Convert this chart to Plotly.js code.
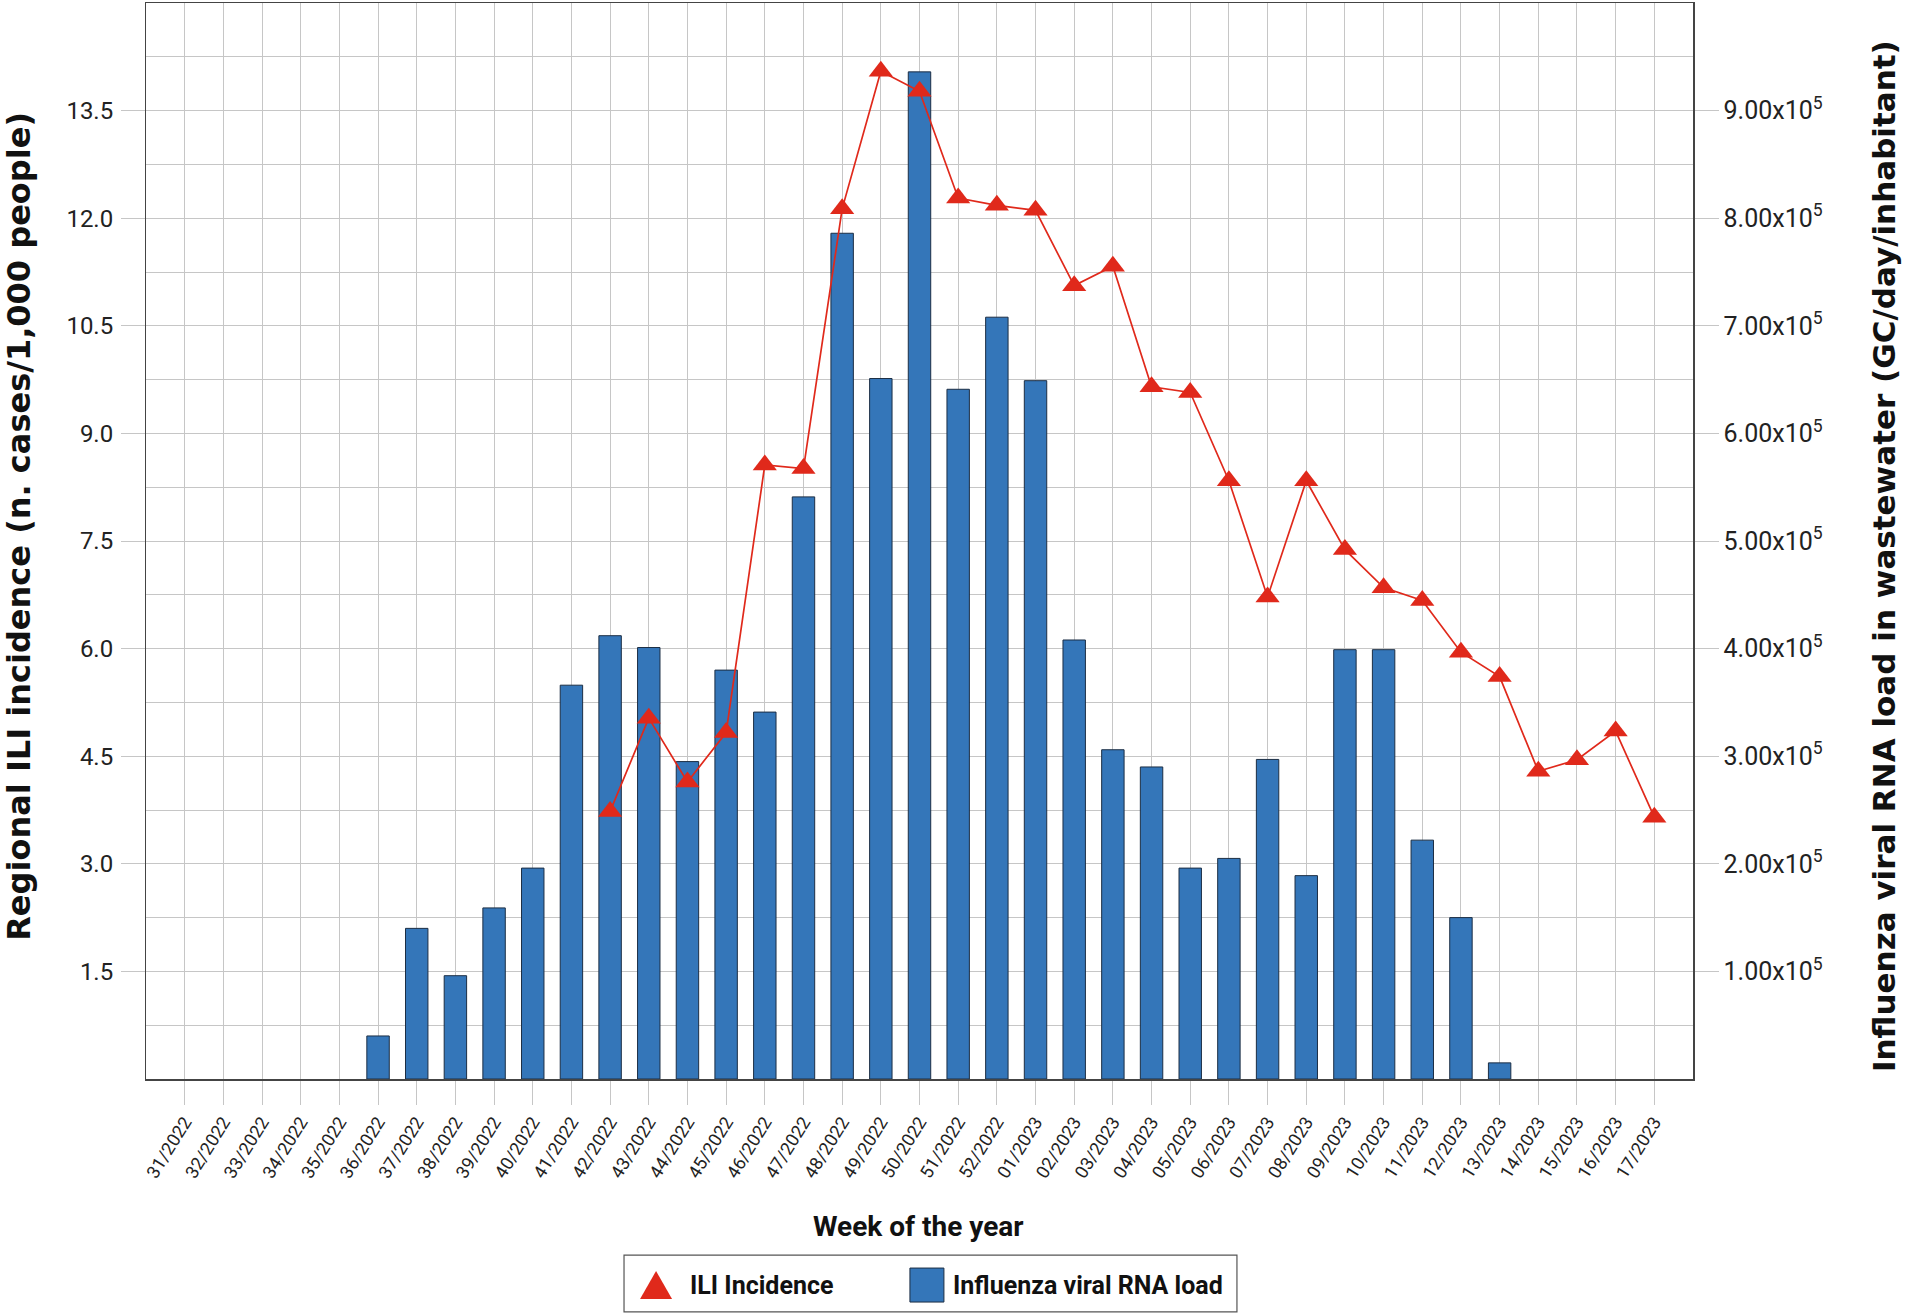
<!DOCTYPE html>
<html>
<head>
<meta charset="utf-8">
<script src="https://cdn.plot.ly/plotly-3.0.1.min.js"></script>
<style>
  html, body { margin: 0; padding: 0; background: #fff; }
  #chart { width: 1907px; height: 1316px; }
</style>
</head>
<body>
<div id="chart"></div>
<script>
// week labels (x categories)
var weeks = ["31/2022", "32/2022", "33/2022", "34/2022", "35/2022", "36/2022", "37/2022", "38/2022",
	"39/2022", "40/2022", "41/2022", "42/2022", "43/2022", "44/2022", "45/2022", "46/2022", "47/2022",
	"48/2022", "49/2022", "50/2022", "51/2022", "52/2022", "01/2023", "02/2023", "03/2023", "04/2023",
	"05/2023", "06/2023", "07/2023", "08/2023", "09/2023", "10/2023", "11/2023", "12/2023", "13/2023",
	"14/2023", "15/2023", "16/2023", "17/2023"];

// ILI incidence, cases per 1,000 people (left axis)
var iliIncidence = [null, null, null, null, null, null, null, null, null, null, null,
	3.73, 5.03, 4.14, 4.83, 8.56, 8.51, 12.13, 14.05, 13.77, 12.28, 12.18, 12.11, 11.06,
	11.33, 9.65, 9.57, 8.34, 6.72, 8.34, 7.38, 6.85, 6.67, 5.95, 5.61, 4.29, 4.45, 4.85, 3.65];

// influenza viral RNA load, GC/day/inhabitant (right axis)
var rnaLoad = [null, null, null, null, null, 40000, 140000, 96000, 159000, 196000, 366000,
	412000, 401000, 295000, 380000, 341000, 541000, 786000, 651000, 936000, 641000, 708000,
	649000, 408000, 306000, 290000, 196000, 205000, 297000, 189000, 399000, 399000, 222000,
	150000, 15000, null, null, null, null];

var iliTicks = [1.5, 3.0, 4.5, 6.0, 7.5, 9.0, 10.5, 12.0, 13.5];
var iliTickText = ["1.5", "3.0", "4.5", "6.0", "7.5", "9.0", "10.5", "12.0", "13.5"];
var rnaTicks = [100000, 200000, 300000, 400000, 500000, 600000, 700000, 800000, 900000];
var rnaTickText = ["1.00x10<sup>5</sup>", "2.00x10<sup>5</sup>", "3.00x10<sup>5</sup>",
	"4.00x10<sup>5</sup>", "5.00x10<sup>5</sup>", "6.00x10<sup>5</sup>", "7.00x10<sup>5</sup>",
	"8.00x10<sup>5</sup>", "9.00x10<sup>5</sup>"];

var NARROW = "Roboto, Liberation Sans, sans-serif";
var WIDE = "DejaVu Sans, Verdana, sans-serif";
var GRID = "#c6c6c6";
var RED = "#e0291b";
var BLUE = "#3476b9";

var bars = {
	x: weeks, y: rnaLoad, type: "bar", yaxis: "y", name: "Influenza viral RNA load",
	marker: {color: BLUE, line: {color: "#1c2e44", width: 1}}
};
var ili = {
	x: weeks, y: iliIncidence, type: "scatter", mode: "lines+markers", yaxis: "y2", name: "ILI Incidence",
	line: {color: RED, width: 1.7},
	marker: {symbol: "triangle-up", size: 21, color: RED}
};

var layout = {
	width: 1907, height: 1316,
	margin: {l: 146, r: 214, t: 3, b: 237},
	paper_bgcolor: "#fff", plot_bgcolor: "#fff",
	font: {family: NARROW, color: "#222", size: 24},
	showlegend: false,
	bargap: 0.42,
	xaxis: {
		type: "category", range: [-1, 39],
		showgrid: true, gridcolor: GRID, gridwidth: 1,
		ticks: "outside", ticklen: 24, tickcolor: GRID,
		tickangle: -58, tickfont: {family: NARROW, size: 18, color: "#222"},
		showline: true, mirror: true, linecolor: "#444", linewidth: 1.5
	},
	// RNA load axis (bars) on the right, carries the grid
	yaxis: {
		side: "right", range: [0, 1000000],
		tickmode: "array", tickvals: rnaTicks, ticktext: rnaTickText,
		ticks: "outside", ticklen: 24, tickcolor: GRID,
		tickfont: {family: NARROW, size: 25, color: "#222"},
		showgrid: true, gridcolor: GRID, gridwidth: 1, zeroline: false,
		minor: {dtick: 50000, tick0: 0, showgrid: true, gridcolor: GRID, gridwidth: 1, ticks: ""},
		showline: true, mirror: true, linecolor: "#444", linewidth: 1.5
	},
	// ILI axis on the left, drawn over the bars
	yaxis2: {
		side: "left", overlaying: "y", range: [0, 15],
		tickmode: "array", tickvals: iliTicks, ticktext: iliTickText,
		ticks: "outside", ticklen: 24, tickcolor: GRID, ticklabelstandoff: 3,
		tickfont: {family: NARROW, size: 24, color: "#222"},
		showgrid: false, zeroline: false, showline: false
	},
	shapes: [
		// legend frame
		{type: "rect", xref: "paper", yref: "paper", x0: 0.309, x1: 0.7052, y0: -0.2165, y1: -0.1636,
			line: {color: "#555", width: 1.2}, fillcolor: "#fff"},
		// legend triangle
		{type: "path", xref: "paper", yref: "paper", xsizemode: "pixel", ysizemode: "pixel",
			xanchor: 0.3297, yanchor: -0.1924, path: "M-16,-13L16,-13L0,15Z",
			fillcolor: RED, line: {width: 0}},
		// legend square
		{type: "rect", xref: "paper", yref: "paper", xsizemode: "pixel", ysizemode: "pixel",
			xanchor: 0.5048, yanchor: -0.1915, x0: -17, x1: 17, y0: -17, y1: 17,
			fillcolor: BLUE, line: {color: "#1c2e44", width: 1}}
	],
	annotations: [
		// axis titles
		{text: "Regional ILI incidence (n. cases/1,000 people)", xref: "paper", yref: "paper",
			x: -0.0822, y: 0.514, xanchor: "center", yanchor: "middle", textangle: -90, showarrow: false,
			font: {family: WIDE, size: 32, weight: "bold", color: "#111"}},
		{text: "Influenza viral RNA load in wastewater (GC/day/inhabitant)", xref: "paper", yref: "paper",
			x: 1.1235, y: 0.486, xanchor: "center", yanchor: "middle", textangle: -90, showarrow: false,
			font: {family: WIDE, size: 31, weight: "bold", color: "#111"}},
		{text: "Week of the year", xref: "paper", yref: "paper",
			x: 0.4996, y: -0.1375, xanchor: "center", yanchor: "middle", showarrow: false,
			font: {family: NARROW, size: 28, weight: "bold", color: "#111"}},
		// legend labels
		{text: "ILI Incidence", xref: "paper", yref: "paper", x: 0.3504, y: -0.1915,
			xanchor: "left", yanchor: "middle", showarrow: false,
			font: {family: NARROW, size: 25, weight: "bold", color: "#111"}},
		{text: "Influenza viral RNA load", xref: "paper", yref: "paper", x: 0.5204, y: -0.1915,
			xanchor: "left", yanchor: "middle", showarrow: false,
			font: {family: NARROW, size: 25, weight: "bold", color: "#111"}}
	]
};

Plotly.newPlot("chart", [bars, ili], layout, {displayModeBar: false, staticPlot: true});
</script>
</body>
</html>
